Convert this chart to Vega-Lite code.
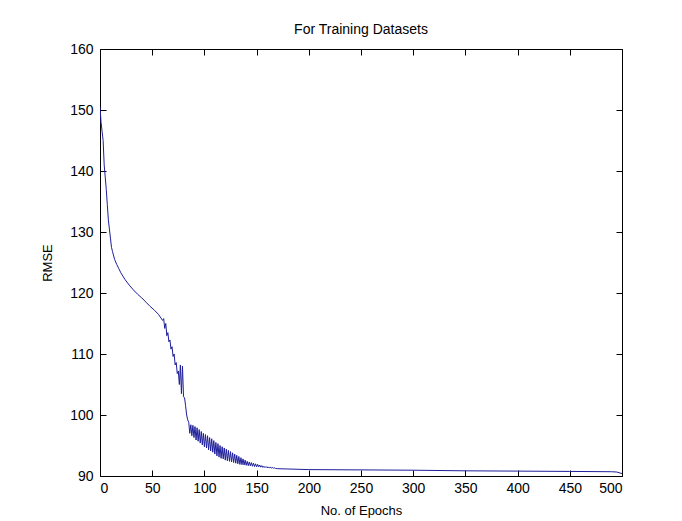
{
  "$schema": "https://vega.github.io/schema/vega-lite/v6.json",
  "width": 522,
  "height": 427,
  "autosize": "none",
  "padding": {"left": 100, "top": 49, "right": 60, "bottom": 45},
  "background": "white",
  "config": {
    "view": {"stroke": "#000000", "strokeWidth": 1},
    "font": "Liberation Sans",
    "axis": {"grid": false, "domainColor": "#000", "tickColor": "#000", "labelColor": "#000", "titleColor": "#000", "labelFont": "Liberation Sans", "titleFont": "Liberation Sans", "labelFontSize": 14, "titleFontSize": 13, "titleFontWeight": "normal"}
  },
  "title": {"text": "For Training Datasets", "fontSize": 14, "fontWeight": "normal", "font": "Liberation Sans", "color": "#000", "offset": 5},
  "data": {"values": [
    {"epoch": 0, "rmse": 150.5}, {"epoch": 1, "rmse": 148}, {"epoch": 2, "rmse": 146.5}, {"epoch": 3, "rmse": 145}, {"epoch": 4, "rmse": 141},
    {"epoch": 5, "rmse": 139}, {"epoch": 6, "rmse": 137}, {"epoch": 7, "rmse": 134.5}, {"epoch": 8, "rmse": 132}, {"epoch": 9, "rmse": 130.5},
    {"epoch": 10, "rmse": 129}, {"epoch": 11, "rmse": 127.5}, {"epoch": 12, "rmse": 126.8}, {"epoch": 14, "rmse": 125.5}, {"epoch": 16, "rmse": 124.7},
    {"epoch": 18, "rmse": 124}, {"epoch": 20, "rmse": 123.3}, {"epoch": 24, "rmse": 122.2}, {"epoch": 28, "rmse": 121.3}, {"epoch": 32, "rmse": 120.5},
    {"epoch": 36, "rmse": 119.8}, {"epoch": 40, "rmse": 119.2}, {"epoch": 44, "rmse": 118.5}, {"epoch": 48, "rmse": 117.8}, {"epoch": 52, "rmse": 117.2},
    {"epoch": 56, "rmse": 116.5}, {"epoch": 60, "rmse": 115.5}, {"epoch": 61, "rmse": 115.8}, {"epoch": 62, "rmse": 114.2}, {"epoch": 63, "rmse": 115},
    {"epoch": 64, "rmse": 113}, {"epoch": 65, "rmse": 113.5}, {"epoch": 66, "rmse": 112}, {"epoch": 67, "rmse": 112.3}, {"epoch": 68, "rmse": 110.8},
    {"epoch": 69, "rmse": 111.2}, {"epoch": 70, "rmse": 109.6}, {"epoch": 71, "rmse": 110}, {"epoch": 72, "rmse": 108.2}, {"epoch": 73, "rmse": 108.6},
    {"epoch": 74, "rmse": 106.8}, {"epoch": 75, "rmse": 107.2}, {"epoch": 76, "rmse": 105}, {"epoch": 77, "rmse": 108.2}, {"epoch": 78, "rmse": 103.5},
    {"epoch": 79, "rmse": 108}, {"epoch": 80, "rmse": 103}, {"epoch": 81, "rmse": 102.8}, {"epoch": 82, "rmse": 101.5}, {"epoch": 83, "rmse": 100},
    {"epoch": 84, "rmse": 99.2}, {"epoch": 85, "rmse": 98.8}, {"epoch": 86, "rmse": 97}, {"epoch": 87, "rmse": 98.4}, {"epoch": 88, "rmse": 96.6},
    {"epoch": 89, "rmse": 98.3}, {"epoch": 90, "rmse": 96.3}, {"epoch": 91, "rmse": 98.1}, {"epoch": 92, "rmse": 95.9}, {"epoch": 93, "rmse": 97.9},
    {"epoch": 94, "rmse": 95.7}, {"epoch": 95, "rmse": 97.6}, {"epoch": 96, "rmse": 95.4}, {"epoch": 97, "rmse": 97.3}, {"epoch": 98, "rmse": 95.1},
    {"epoch": 99, "rmse": 97.0}, {"epoch": 100, "rmse": 94.8}, {"epoch": 101, "rmse": 96.8}, {"epoch": 102, "rmse": 94.6}, {"epoch": 103, "rmse": 96.6},
    {"epoch": 104, "rmse": 94.3}, {"epoch": 105, "rmse": 96.3}, {"epoch": 106, "rmse": 94.1}, {"epoch": 107, "rmse": 96.1}, {"epoch": 108, "rmse": 93.9},
    {"epoch": 109, "rmse": 95.8}, {"epoch": 110, "rmse": 93.6}, {"epoch": 111, "rmse": 95.5}, {"epoch": 112, "rmse": 93.3}, {"epoch": 113, "rmse": 95.3},
    {"epoch": 114, "rmse": 93.1}, {"epoch": 115, "rmse": 95.0}, {"epoch": 116, "rmse": 92.9}, {"epoch": 117, "rmse": 94.8}, {"epoch": 118, "rmse": 92.8},
    {"epoch": 119, "rmse": 94.6}, {"epoch": 120, "rmse": 92.6}, {"epoch": 121, "rmse": 94.4}, {"epoch": 122, "rmse": 92.5}, {"epoch": 123, "rmse": 94.2},
    {"epoch": 124, "rmse": 92.4}, {"epoch": 125, "rmse": 94.0}, {"epoch": 126, "rmse": 92.3}, {"epoch": 127, "rmse": 93.8}, {"epoch": 128, "rmse": 92.2},
    {"epoch": 129, "rmse": 93.6}, {"epoch": 130, "rmse": 92.1}, {"epoch": 131, "rmse": 93.4}, {"epoch": 132, "rmse": 92.0}, {"epoch": 133, "rmse": 93.2},
    {"epoch": 134, "rmse": 91.9}, {"epoch": 135, "rmse": 93.0}, {"epoch": 136, "rmse": 91.85}, {"epoch": 137, "rmse": 92.8}, {"epoch": 138, "rmse": 91.8},
    {"epoch": 139, "rmse": 92.6}, {"epoch": 140, "rmse": 91.75}, {"epoch": 141, "rmse": 92.4}, {"epoch": 142, "rmse": 91.7}, {"epoch": 143, "rmse": 92.3},
    {"epoch": 144, "rmse": 91.65}, {"epoch": 145, "rmse": 92.2}, {"epoch": 146, "rmse": 91.6}, {"epoch": 147, "rmse": 92.1}, {"epoch": 148, "rmse": 91.55},
    {"epoch": 149, "rmse": 92.0}, {"epoch": 150, "rmse": 91.5}, {"epoch": 151, "rmse": 91.9}, {"epoch": 152, "rmse": 91.5}, {"epoch": 153, "rmse": 91.8},
    {"epoch": 154, "rmse": 91.45}, {"epoch": 155, "rmse": 91.7}, {"epoch": 156, "rmse": 91.4}, {"epoch": 157, "rmse": 91.6}, {"epoch": 158, "rmse": 91.38},
    {"epoch": 159, "rmse": 91.55}, {"epoch": 160, "rmse": 91.35}, {"epoch": 161, "rmse": 91.5}, {"epoch": 162, "rmse": 91.32}, {"epoch": 163, "rmse": 91.45},
    {"epoch": 164, "rmse": 91.3}, {"epoch": 165, "rmse": 91.4}, {"epoch": 166, "rmse": 91.28}, {"epoch": 167, "rmse": 91.35}, {"epoch": 168, "rmse": 91.25},
    {"epoch": 170, "rmse": 91.2}, {"epoch": 180, "rmse": 91.15}, {"epoch": 200, "rmse": 91.05}, {"epoch": 250, "rmse": 91.0}, {"epoch": 300, "rmse": 90.95},
    {"epoch": 350, "rmse": 90.85}, {"epoch": 400, "rmse": 90.8}, {"epoch": 450, "rmse": 90.75}, {"epoch": 490, "rmse": 90.7}, {"epoch": 495, "rmse": 90.65},
    {"epoch": 500, "rmse": 90.4}
  ]},
  "layer": [
    {
      "mark": {"type": "line", "color": "#1e1e9a", "strokeWidth": 1, "clip": true},
      "encoding": {
        "x": {"field": "epoch", "type": "quantitative", "scale": {"domain": [0, 500], "nice": false, "zero": false},
          "axis": {"orient": "bottom", "values": [0,50,100,150,200,250,300,350,400,450,500], "tickSize": -6, "labelPadding": 11, "domain": false, "title": "No. of Epochs", "titlePadding": 9}},
        "y": {"field": "rmse", "type": "quantitative", "scale": {"domain": [90, 160], "nice": false, "zero": false},
          "axis": {"orient": "left", "values": [90,100,110,120,130,140,150,160], "tickSize": -6, "labelPadding": 13, "domain": false, "title": "RMSE", "titlePadding": 15}}
      }
    },
    {
      "mark": {"type": "line", "strokeOpacity": 0},
      "encoding": {
        "x": {"field": "epoch", "type": "quantitative", "scale": {"domain": [0, 500], "nice": false, "zero": false},
          "axis": {"orient": "top", "values": [0,50,100,150,200,250,300,350,400,450,500], "tickSize": -6, "labels": false, "domain": false, "title": null}},
        "y": {"field": "rmse", "type": "quantitative", "scale": {"domain": [90, 160], "nice": false, "zero": false},
          "axis": {"orient": "right", "values": [90,100,110,120,130,140,150,160], "tickSize": -6, "labels": false, "domain": false, "title": null}}
      }
    }
  ],
  "resolve": {"axis": {"x": "independent", "y": "independent"}}
}
